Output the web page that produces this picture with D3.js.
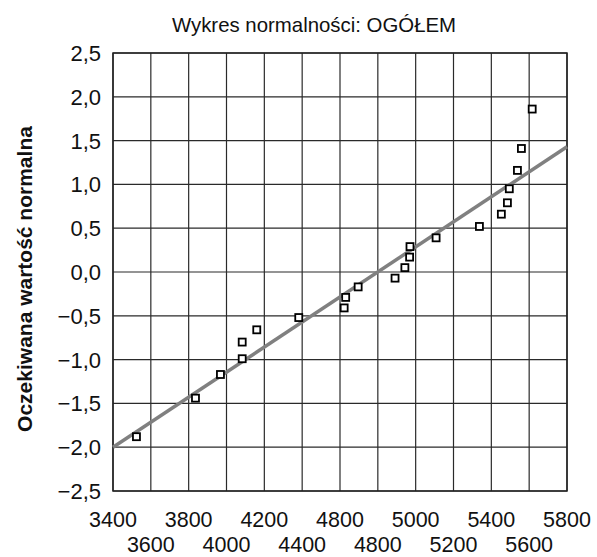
<!DOCTYPE html>
<html>
<head>
<meta charset="utf-8">
<script src="https://cdn.jsdelivr.net/npm/d3@7"></script>
<style>
body { margin: 0; background: #fff; }
text { font-family: "Liberation Sans", Arial, sans-serif; }
</style>
</head>
<body>
<div id="plot"></div>
<script>
var w = 597;
var h = 557;

// observed values and expected normal values
var observed = [3524, 3836, 3968, 4083, 4083, 4160, 4382, 4622, 4630, 4696, 4891,
                4943, 4968, 4970, 5108, 5337, 5453, 5485, 5495, 5538, 5559, 5616];
var expected = [-1.88, -1.44, -1.17, -0.99, -0.80, -0.66, -0.52, -0.41, -0.29, -0.17, -0.07,
                0.05, 0.17, 0.29, 0.39, 0.52, 0.66, 0.79, 0.95, 1.16, 1.41, 1.86];

// fitted line ends
var lineX = [3400, 5800];
var lineY = [-2.0, 1.43];

var xTicks = [3400, 3600, 3800, 4000, 4200, 4400, 4600, 4800, 5000, 5200, 5400, 5600, 5800];
var xTickLabels = ["3400", "3600", "3800", "4000", "4200", "4400", "4800", "4800", "5000", "5200", "5400", "5600", "5800"];
var yTicks = [2.5, 2.0, 1.5, 1.0, 0.5, 0.0, -0.5, -1.0, -1.5, -2.0, -2.5];

var mLeft = 113, mRight = 567, mTop = 53, mBottom = 491;

var xScale = d3.scaleLinear().domain([3400, 5800]).range([mLeft, mRight]);
var yScale = d3.scaleLinear().domain([-2.5, 2.5]).range([mBottom, mTop]);

var svg = d3.select("#plot").append("svg")
    .attr("width", w)
    .attr("height", h);

// title
svg.append("text")
   .attr("x", 314)
   .attr("y", 32)
   .attr("text-anchor", "middle")
   .attr("font-size", "20.4px")
   .attr("fill", "#111")
   .text("Wykres normalności: OGÓŁEM");

// grid
svg.append("g").selectAll("line")
   .data(xTicks)
   .enter().append("line")
   .attr("x1", function(d) { return xScale(d); })
   .attr("x2", function(d) { return xScale(d); })
   .attr("y1", mTop)
   .attr("y2", mBottom)
   .attr("stroke", "#2a2a2a")
   .attr("stroke-width", 1.2);

svg.append("g").selectAll("line")
   .data(yTicks)
   .enter().append("line")
   .attr("x1", mLeft)
   .attr("x2", mRight)
   .attr("y1", function(d) { return yScale(d); })
   .attr("y2", function(d) { return yScale(d); })
   .attr("stroke", "#2a2a2a")
   .attr("stroke-width", 1.2);

svg.append("rect")
   .attr("x", mLeft)
   .attr("y", mTop)
   .attr("width", mRight - mLeft)
   .attr("height", mBottom - mTop)
   .attr("fill", "none")
   .attr("stroke", "#222")
   .attr("stroke-width", 1.5);

// fitted line
svg.append("line")
   .attr("x1", xScale(lineX[0]))
   .attr("y1", yScale(lineY[0]))
   .attr("x2", xScale(lineX[1]))
   .attr("y2", yScale(lineY[1]))
   .attr("stroke", "#808080")
   .attr("stroke-width", 3.5);

// points
svg.append("g").selectAll("rect")
   .data(observed)
   .enter().append("rect")
   .attr("x", function(d) { return xScale(d) - 3.5; })
   .attr("y", function(d, i) { return yScale(expected[i]) - 3.5; })
   .attr("width", 7)
   .attr("height", 7)
   .attr("fill", "#fff")
   .attr("stroke", "#000")
   .attr("stroke-width", 1.8);

// y tick labels
svg.append("g").selectAll("text")
   .data(yTicks)
   .enter().append("text")
   .attr("x", 101)
   .attr("y", function(d) { return yScale(d) + 8; })
   .attr("text-anchor", "end")
   .attr("font-size", "22px")
   .attr("fill", "#111")
   .text(function(d) { return d3.format(".1f")(d).replace("-", "\u2013").replace(".", ","); });

// x tick labels, alternating rows
svg.append("g").selectAll("text")
   .data(xTicks)
   .enter().append("text")
   .attr("x", function(d) { return xScale(d); })
   .attr("y", function(d, i) { return i % 2 === 0 ? 527 : 552; })
   .attr("text-anchor", "middle")
   .attr("font-size", "21.5px")
   .attr("fill", "#111")
   .text(function(d, i) { return xTickLabels[i]; });

// y axis title
svg.append("text")
   .attr("transform", "translate(32,279) rotate(-90)")
   .attr("text-anchor", "middle")
   .attr("font-size", "21px")
   .attr("font-weight", "bold")
   .attr("fill", "#111")
   .text("Oczekiwana wartość normalna");
</script>
</body>
</html>
